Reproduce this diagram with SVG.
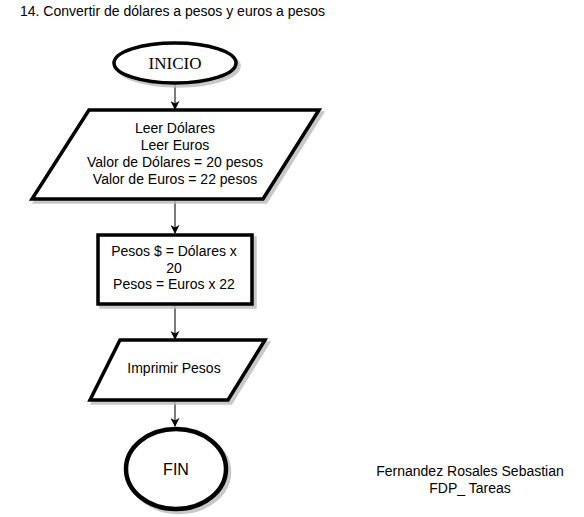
<svg xmlns="http://www.w3.org/2000/svg" width="584" height="517" viewBox="0 0 584 517">
<style>
  text { font-family: "Comic Sans MS", "Liberation Sans", sans-serif; font-size: 14px; fill: #000; }
  .c { text-anchor: middle; }
  .shape { fill: #fff; stroke: #000; stroke-width: 3.5; }
  .shadow { fill: #bbb; stroke: #bbb; stroke-width: 3.5; opacity: 0.8; }
  .conn { stroke: #222; stroke-width: 1.2; fill: none; marker-end: url(#arr); }
</style>
<defs>
  <marker id="arr" viewBox="0 0 10 10" refX="9" refY="5" markerWidth="9" markerHeight="9" markerUnits="userSpaceOnUse" orient="auto">
    <path d="M0,0 L10,5 L0,10 L3,5 Z" fill="#000"/>
  </marker>
</defs>
<rect width="584" height="517" fill="#fff"/>
<text x="20" y="16">14. Convertir de dólares a pesos y euros a pesos</text>

<g id="connectors">
  <line class="conn" x1="175" y1="84" x2="175" y2="109"/>
  <line class="conn" x1="175" y1="201" x2="175" y2="233"/>
  <line class="conn" x1="175" y1="306" x2="175" y2="339"/>
  <line class="conn" x1="175" y1="402" x2="175" y2="426"/>
</g>

<g id="inicio">
  <ellipse class="shadow" cx="178" cy="66" rx="61" ry="20"/>
  <ellipse class="shape" cx="175" cy="63" rx="61" ry="20"/>
  <text x="175" y="69" class="c" style="font-family:'Liberation Serif',serif;font-size:17px">INICIO</text>
</g>

<g id="leer">
  <polygon class="shadow" points="92,113 322,113 266,202 35,202"/>
  <polygon class="shape" points="89,110 319,110 263,199 32,199"/>
  <text x="175" y="133" class="c">Leer Dólares</text>
  <text x="175" y="150" class="c">Leer Euros</text>
  <text x="175" y="167" class="c">Valor de Dólares = 20 pesos</text>
  <text x="175" y="184" class="c">Valor de Euros = 22 pesos</text>
</g>

<g id="proceso">
  <rect class="shadow" x="101" y="238" width="154" height="69"/>
  <rect class="shape" x="98" y="235" width="154" height="69"/>
  <text x="174" y="256" class="c">Pesos $ = Dólares x</text>
  <text x="174" y="273" class="c">20</text>
  <text x="174" y="289" class="c">Pesos = Euros x 22</text>
</g>

<g id="imprimir">
  <polygon class="shadow" points="123,343 268,343 231,403 93,403"/>
  <polygon class="shape" points="120,340 265,340 228,400 90,400"/>
  <text x="174" y="373" class="c">Imprimir Pesos</text>
</g>

<g id="fin">
  <ellipse class="shadow" cx="179" cy="472" rx="50" ry="40" style="stroke-width:4.5"/>
  <ellipse class="shape" cx="176" cy="469" rx="50" ry="40" style="stroke-width:4.5"/>
  <text x="176" y="475" class="c" style="font-family:'Liberation Sans',sans-serif;font-size:16px">FIN</text>
</g>

<text x="470" y="476" class="c">Fernandez Rosales Sebastian</text>
<text x="470" y="493" class="c">FDP_ Tareas</text>
</svg>
